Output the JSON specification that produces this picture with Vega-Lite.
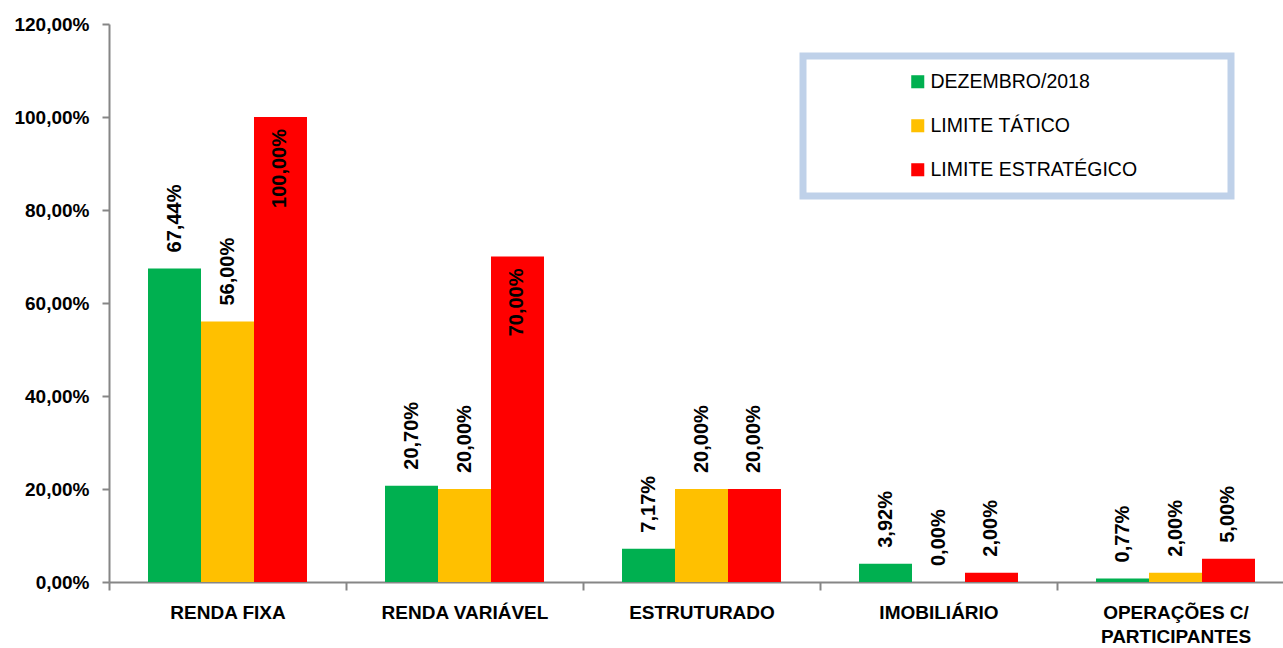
{
  "$schema": "https://vega.github.io/schema/vega-lite/v6.json",
  "autosize": "none",
  "width": 1185,
  "height": 558,
  "padding": {"left": 109, "top": 24, "right": -11, "bottom": 66},
  "config": {
    "locale": {"number": {"decimal": ",", "thousands": ".", "grouping": [3], "currency": ["R$", ""]}},
    "view": {"stroke": null},
    "font": "Liberation Sans",
    "axis": {"grid": false, "domainColor": "#868686", "domainWidth": 2, "tickColor": "#868686", "tickWidth": 2, "labelColor": "#000000", "labelFont": "Liberation Sans", "labelFontWeight": "bold", "labelFontSize": 19}
  },
  "data": {
    "values": [
      {"categoria": "RENDA FIXA", "serie": "DEZEMBRO/2018", "valor": 0.6744},
      {"categoria": "RENDA FIXA", "serie": "LIMITE TÁTICO", "valor": 0.56},
      {"categoria": "RENDA FIXA", "serie": "LIMITE ESTRATÉGICO", "valor": 1.0},
      {"categoria": "RENDA VARIÁVEL", "serie": "DEZEMBRO/2018", "valor": 0.207},
      {"categoria": "RENDA VARIÁVEL", "serie": "LIMITE TÁTICO", "valor": 0.2},
      {"categoria": "RENDA VARIÁVEL", "serie": "LIMITE ESTRATÉGICO", "valor": 0.7},
      {"categoria": "ESTRUTURADO", "serie": "DEZEMBRO/2018", "valor": 0.0717},
      {"categoria": "ESTRUTURADO", "serie": "LIMITE TÁTICO", "valor": 0.2},
      {"categoria": "ESTRUTURADO", "serie": "LIMITE ESTRATÉGICO", "valor": 0.2},
      {"categoria": "IMOBILIÁRIO", "serie": "DEZEMBRO/2018", "valor": 0.0392},
      {"categoria": "IMOBILIÁRIO", "serie": "LIMITE TÁTICO", "valor": 0.0},
      {"categoria": "IMOBILIÁRIO", "serie": "LIMITE ESTRATÉGICO", "valor": 0.02},
      {"categoria": "OPERAÇÕES C/ PARTICIPANTES", "serie": "DEZEMBRO/2018", "valor": 0.0077},
      {"categoria": "OPERAÇÕES C/ PARTICIPANTES", "serie": "LIMITE TÁTICO", "valor": 0.02},
      {"categoria": "OPERAÇÕES C/ PARTICIPANTES", "serie": "LIMITE ESTRATÉGICO", "valor": 0.05}
    ]
  },
  "encoding": {
    "x": {
      "field": "categoria", "type": "nominal", "sort": null, "title": null,
      "scale": {"paddingInner": 0, "paddingOuter": 0},
      "axis": {
        "labelAngle": 0, "tickBand": "extent", "tickSize": 8, "labelPadding": 13, "labelLineHeight": 24, "labelLimit": 300,
        "labelExpr": "datum.value == 'OPERAÇÕES C/ PARTICIPANTES' ? ['OPERAÇÕES C/', 'PARTICIPANTES'] : datum.label"
      }
    },
    "xOffset": {
      "field": "serie", "type": "nominal", "sort": null,
      "scale": {"paddingInner": 0, "paddingOuter": 0.736}
    },
    "y": {
      "field": "valor", "type": "quantitative", "title": null,
      "scale": {"domain": [0, 1.2], "nice": false},
      "axis": {"values": [0, 0.2, 0.4, 0.6, 0.8, 1.0, 1.2], "format": ".2%", "tickSize": 7, "labelPadding": 13}
    }
  },
  "layer": [
    {
      "mark": {"type": "bar"},
      "encoding": {
        "color": {
          "field": "serie", "type": "nominal", "sort": null,
          "scale": {"domain": ["DEZEMBRO/2018", "LIMITE TÁTICO", "LIMITE ESTRATÉGICO"], "range": ["#00B050", "#FFC000", "#FF0000"]},
          "legend": {
            "title": " ", "titleOrient": "right", "titlePadding": 78, "titleFontSize": 19,
            "orient": "none", "legendX": 694, "legendY": 32,
            "symbolType": "square", "symbolSize": 170, "symbolStrokeWidth": 0, "symbolOpacity": 1,
            "labelFont": "Liberation Sans", "labelFontSize": 19.5, "labelColor": "#000000", "labelOffset": 3, "labelLimit": 400,
            "rowPadding": 23, "padding": 16, "symbolOffset": 89,
            "fillColor": "#ffffff", "strokeColor": "#bfd1e9",
            "encode": {"legend": {"update": {"strokeWidth": {"value": 7}}}}
          }
        }
      }
    },
    {
      "transform": [{"filter": "!(datum.serie == 'LIMITE ESTRATÉGICO' && datum.valor >= 0.7)"}],
      "mark": {"type": "text", "angle": 270, "align": "left", "baseline": "middle", "dx": 16, "fontWeight": "bold", "fontSize": 20, "color": "#000000"},
      "encoding": {"text": {"field": "valor", "type": "quantitative", "format": ".2%"}}
    },
    {
      "transform": [{"filter": "datum.serie == 'LIMITE ESTRATÉGICO' && datum.valor >= 0.7"}],
      "mark": {"type": "text", "angle": 270, "align": "right", "baseline": "middle", "dx": -12, "fontWeight": "bold", "fontSize": 20, "color": "#000000"},
      "encoding": {"text": {"field": "valor", "type": "quantitative", "format": ".2%"}}
    }
  ]
}
